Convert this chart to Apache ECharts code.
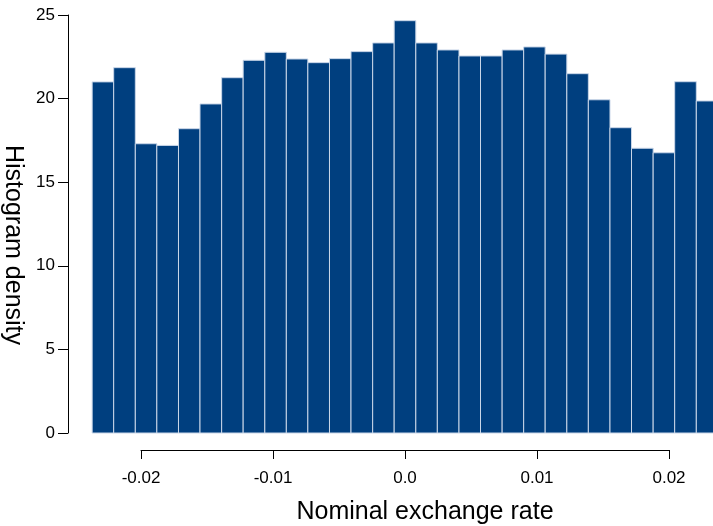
<!DOCTYPE html>
<html>
<head>
<meta charset="utf-8">
<script src="https://cdn.jsdelivr.net/npm/echarts@6/dist/echarts.min.js"></script>
<style>
html,body{margin:0;padding:0;background:#fff;}
#chart{width:713px;height:526px;}
</style>
</head>
<body>
<div id="chart"></div>
<script>
// Histogram bin edges (Nominal exchange rate)
const binEdges = [
  -0.02370, -0.02207, -0.02043, -0.01880, -0.01716, -0.01553, -0.01389, -0.01226,
  -0.01062, -0.00899, -0.00736, -0.00572, -0.00409, -0.00245, -0.00082,
   0.00082,  0.00245,  0.00409,  0.00572,  0.00736,  0.00899,  0.01062,  0.01226,
   0.01389,  0.01553,  0.01716,  0.01880,  0.02043,  0.02207,  0.02370
];
// Histogram density per bin
const densities = [
  21.0, 21.85, 17.3, 17.2, 18.2, 19.68, 21.25, 22.29, 22.77, 22.37,
  22.15, 22.39, 22.81, 23.33, 24.66, 23.33, 22.91, 22.55, 22.55, 22.91,
  23.09, 22.66, 21.49, 19.93, 18.26, 17.03, 16.76, 21.01, 19.86
];
const xTickValues = [-0.02, -0.01, 0.0, 0.01, 0.02];
const xTickLabels = ['-0.02', '-0.01', '0.0', '0.01', '0.02'];
const yTickLabels = ['0', '5', '10', '15', '20', '25'];

const histData = densities.map((d, i) => [binEdges[i], binEdges[i + 1], d]);

const chart = echarts.init(document.getElementById('chart'), null, {renderer: 'canvas'});
const font = '"Liberation Sans", Arial, sans-serif';

chart.setOption({
  animation: false,
  backgroundColor: '#ffffff',
  grid: {left: 141, right: 44, top: 15, bottom: 93, containLabel: false, outerBoundsMode: 'none'},
  xAxis: {
    type: 'value',
    min: -0.02, max: 0.02, interval: 0.01,
    offset: 17,
    name: 'Nominal exchange rate',
    nameLocation: 'middle',
    nameGap: 50,
    nameTextStyle: {fontFamily: font, fontSize: 25, color: '#000', padding: [0, 0, 0, 40]},
    axisLine: {show: true, onZero: false, lineStyle: {color: '#000', width: 1}},
    axisTick: {show: true, length: 9, lineStyle: {color: '#000', width: 1}},
    axisLabel: {
      fontFamily: font, fontSize: 17, color: '#000', margin: 20,
      formatter: function (v) {
        for (let i = 0; i < xTickValues.length; i++) {
          if (Math.abs(v - xTickValues[i]) < 1e-9) return xTickLabels[i];
        }
        return '';
      }
    },
    splitLine: {show: false}
  },
  yAxis: {
    type: 'value',
    min: 0, max: 25, interval: 5,
    offset: 73,
    name: 'Histogram density',
    nameLocation: 'middle',
    nameRotate: -90,
    nameGap: 30,
    nameTextStyle: {fontFamily: font, fontSize: 25, color: '#000', padding: [0, 0, 0, 42]},
    axisLine: {show: true, onZero: false, lineStyle: {color: '#000', width: 1}},
    axisTick: {show: true, length: 10, lineStyle: {color: '#000', width: 1}},
    axisLabel: {
      fontFamily: font, fontSize: 17, color: '#000', margin: 13,
      formatter: function (v) { return yTickLabels[Math.round(v / 5)] || ''; }
    },
    splitLine: {show: false}
  },
  series: [{
    type: 'custom',
    clip: false,
    data: histData,
    encode: {x: [0, 1], y: 2},
    renderItem: function (params, api) {
      const p0 = api.coord([api.value(0), api.value(2)]);
      const p1 = api.coord([api.value(1), 0]);
      return {
        type: 'rect',
        shape: {x: p0[0], y: p0[1], width: p1[0] - p0[0], height: p1[1] - p0[1]},
        style: {fill: '#003f7f', stroke: '#c9d6e8', lineWidth: 1}
      };
    }
  }]
});
</script>
</body>
</html>
